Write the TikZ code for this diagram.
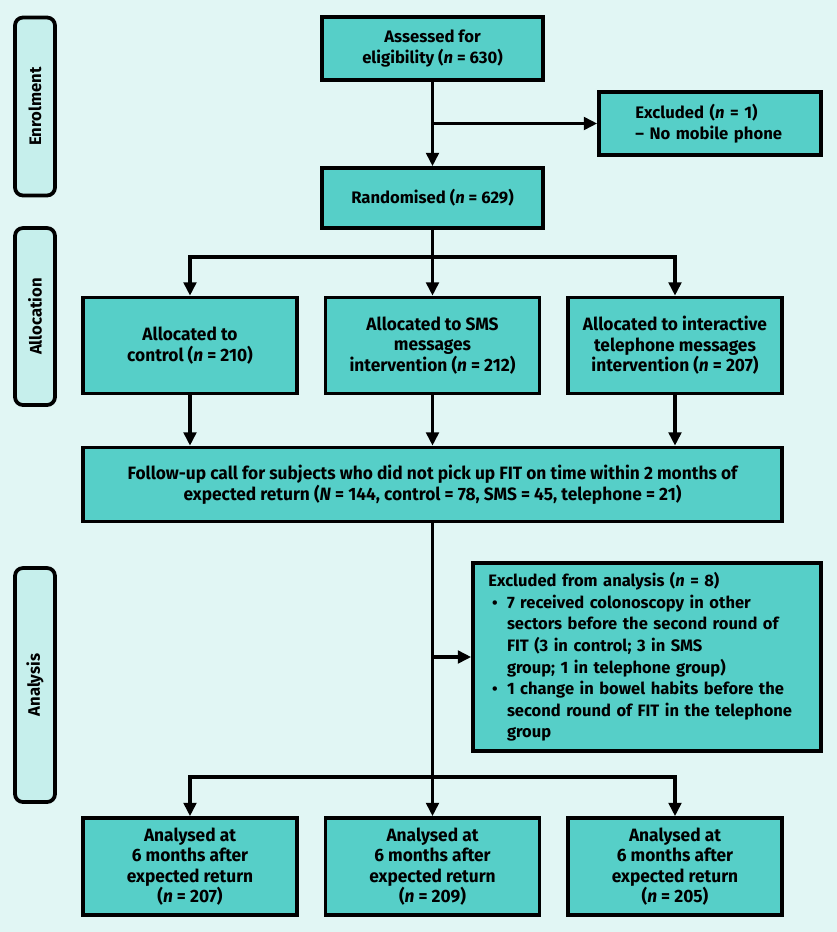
\documentclass[tikz,border=0pt]{standalone}
\usepackage{fontspec}
\setmainfont{Fira Sans}
\newfontfamily\condfont[FakeStretch=0.97]{Fira Sans}
\usepackage{enumitem}
\usetikzlibrary{arrows.meta}
\definecolor{bgcol}{HTML}{E1F6F4}
\definecolor{boxcol}{HTML}{56CFC8}
\definecolor{sidecol}{HTML}{C6EFEC}

\begin{document}
\begin{tikzpicture}[x=0.75pt,y=-0.75pt,
  box/.style={draw=black,fill=boxcol,line width=2.8pt,align=center,inner sep=2pt,
    font=\fontsize{12.5}{15.5}\selectfont\bfseries},
  cbox/.style={box,font=\condfont\fontsize{13.4}{15.4}\selectfont\bfseries},
  side/.style={draw=black,fill=sidecol,line width=2.8pt,rounded corners=6pt,rotate=90,
    minimum height=30pt,font=\fontsize{12.5}{14}\selectfont\bfseries},
  arr/.style={-{Triangle[length=10pt,width=9.5pt]}},
  line width=2.3pt]

\fill[bgcol] (0,0) rectangle (837,932);
\useasboundingbox (0,0) rectangle (837,932);

% stage labels
\node[side,minimum width=133.5pt] (enrol) at (35,106.5) {Enrolment};
\node[side,minimum width=132.75pt] (alloc) at (35,316.5) {Allocation};
\node[side,minimum width=175.5pt] (anal) at (35,685) {Analysis};

% enrolment
\node[box,minimum width=165.75pt,minimum height=47.25pt] (assess) at (432.5,48.5) {Assessed for\\eligibility (\textit{n} = 630)};
\node[box,minimum width=166.5pt,minimum height=47.25pt,text width=112pt,align=left] (excl) at (710,123.5) {Excluded (\textit{n} = 1)\\-- No mobile phone};
\node[box,minimum width=165.75pt,minimum height=45pt] (rand) at (432.5,198) {Randomised (\textit{n} = 629)};

% allocation
\node[cbox,minimum width=160.5pt,minimum height=72pt] (ctrl) at (190,345.5) {Allocated to\\control (\textit{n} = 210)};
\node[cbox,minimum width=160.5pt,minimum height=72pt] (sms) at (432.5,345.5) {Allocated to SMS\\messages\\intervention (\textit{n} = 212)};
\node[cbox,minimum width=160.5pt,minimum height=72pt] (tel) at (675,345.5) {Allocated to interactive\\telephone messages\\intervention (\textit{n} = 207)};
\node[cbox,minimum width=524.25pt,minimum height=55.5pt] (follow) at (432.5,484.5) {Follow-up call for subjects who did not pick up FIT on time within 2 months of\\expected return (\textit{N} = 144, control = 78, SMS = 45, telephone = 21)};

% analysis
\node[box,minimum width=261pt,minimum height=141pt,text width=238pt,align=left,
  font=\fontsize{12.4}{16.2}\selectfont\bfseries] (exana) at (647,657) {Excluded from analysis (\textit{n} = 8)
  \begin{itemize}[nosep,leftmargin=14pt,labelsep=7pt,label={\large•}]
  \item 7 received colonoscopy in other sectors before the second round of FIT (3 in control; 3 in SMS\newline group; 1 in telephone group)
  \item 1 change in bowel habits before the second round of FIT in the telephone group
  \end{itemize}};
\node[cbox,minimum width=160.5pt,minimum height=72.75pt] (res1) at (190,866.5) {Analysed at\\6 months after\\expected return\\(\textit{n} = 207)};
\node[cbox,minimum width=160.5pt,minimum height=72.75pt] (res2) at (432.5,866.5) {Analysed at\\6 months after\\expected return\\(\textit{n} = 209)};
\node[cbox,minimum width=160.5pt,minimum height=72.75pt] (res3) at (675,866.5) {Analysed at\\6 months after\\expected return\\(\textit{n} = 205)};

\coordinate (s1) at (432.5,257);
\coordinate (s2) at (432.5,777);

\draw[arr] (assess) -- (rand);
\draw[arr] (assess.south |- excl.west) -- (excl.west);
\draw (rand) -- (s1);
\draw[arr] (s1) -| (ctrl);
\draw[arr] (s1) -- (sms);
\draw[arr] (s1) -| (tel);
\draw[arr] (ctrl) -- (ctrl |- follow.north);
\draw[arr] (sms) -- (sms |- follow.north);
\draw[arr] (tel) -- (tel |- follow.north);
\draw (follow) -- (s2);
\draw[arr] (follow.south |- exana.west) -- (exana.west);
\draw[arr] (s2) -| (res1);
\draw[arr] (s2) -- (res2);
\draw[arr] (s2) -| (res3);
\end{tikzpicture}
\end{document}
